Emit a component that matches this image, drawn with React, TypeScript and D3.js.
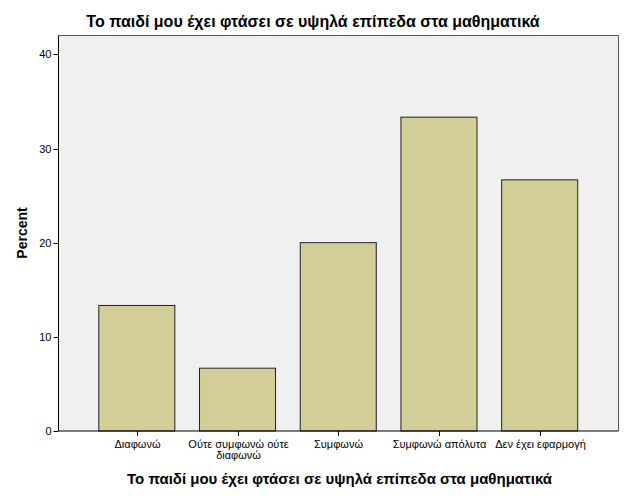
import React from "react";
import * as d3 from "d3";

const categories: string[][] = [
  ["Διαφωνώ"],
  ["Ούτε συμφωνώ ούτε", "διαφωνώ"],
  ["Συμφωνώ"],
  ["Συμφωνώ απόλυτα"],
  ["Δεν έχει εφαρμογή"],
];
const percents: number[] = [13.33, 6.67, 20.0, 33.33, 26.67];
const yTicks: number[] = [0, 10, 20, 30, 40];
const title = "Το παιδί μου έχει φτάσει σε υψηλά επίπεδα στα μαθηματικά";
const xTitle = "Το παιδί μου έχει φτάσει σε υψηλά επίπεδα στα μαθηματικά";
const yTitle = "Percent";

export default function App() {
  const W = 626, H = 501;
  const left = 58.5, right = 618.5, top = 35.5, bottom = 431;
  const font = "'Liberation Sans', Arial, sans-serif";
  const y = d3.scaleLinear().domain([0, 42]).range([bottom, top]);
  const keys = categories.map((c) => c.join(" "));
  const x = d3.scaleBand<string>().domain(keys).range([86.5, 590]).paddingInner(0.245).paddingOuter(0.122);
  const bw = x.bandwidth();
  return (
    <svg width={W} height={H} style={{ position: "absolute", left: 0, top: 0, background: "#fff" }}>
      <rect x={0} y={0} width={W} height={H} fill="#fff" />
      <text x={313} y={27} textAnchor="middle" fontFamily={font} fontSize={16} fontWeight="bold" fill="#000">{title}</text>
      <rect x={left} y={top} width={right - left} height={bottom - top} fill="#F0F0F0" stroke="none" />
      {percents.map((v, i) => (
        <rect key={i} x={x(keys[i])!} y={y(v)} width={bw} height={bottom - y(v)} fill="#D3CE97" stroke="#222" strokeWidth={1} />
      ))}
      <path d={`M${left},${bottom} V${top} H${right} V${bottom}`} fill="none" stroke="#555" strokeWidth={1} />
      <line x1={left} x2={right} y1={bottom} y2={bottom} stroke="#000" strokeWidth={1} />
      <line x1={left} x2={left} y1={bottom} y2={top} stroke="#000" strokeWidth={1} />
      {yTicks.map((t) => (
        <g key={t}>
          <line x1={left - 5} x2={left} y1={Math.round(y(t)) + 0.5} y2={Math.round(y(t)) + 0.5} stroke="#000" />
          <text x={left - 7} y={y(t) + 4} textAnchor="end" fontFamily={font} fontSize={11} fill="#000">{t}</text>
        </g>
      ))}
      {categories.map((c, i) => {
        const cx = Math.round(x(keys[i])! + bw / 2) + 0.5;
        return (
          <g key={i}>
            <line x1={cx} x2={cx} y1={bottom} y2={bottom + 5} stroke="#000" />
            {c.map((line, j) => (
              <text key={j} x={cx} y={bottom + 17 + j * 11} textAnchor="middle" fontFamily={font} fontSize={11} fill="#000">{line}</text>
            ))}
          </g>
        );
      })}
      <text x={339.5} y={484} textAnchor="middle" fontFamily={font} fontSize={15} fontWeight="bold" fill="#000">{xTitle}</text>
      <text transform={`translate(27,${233}) rotate(-90)`} textAnchor="middle" fontFamily={font} fontSize={14} fontWeight="bold" fill="#000">{yTitle}</text>
    </svg>
  );
}
